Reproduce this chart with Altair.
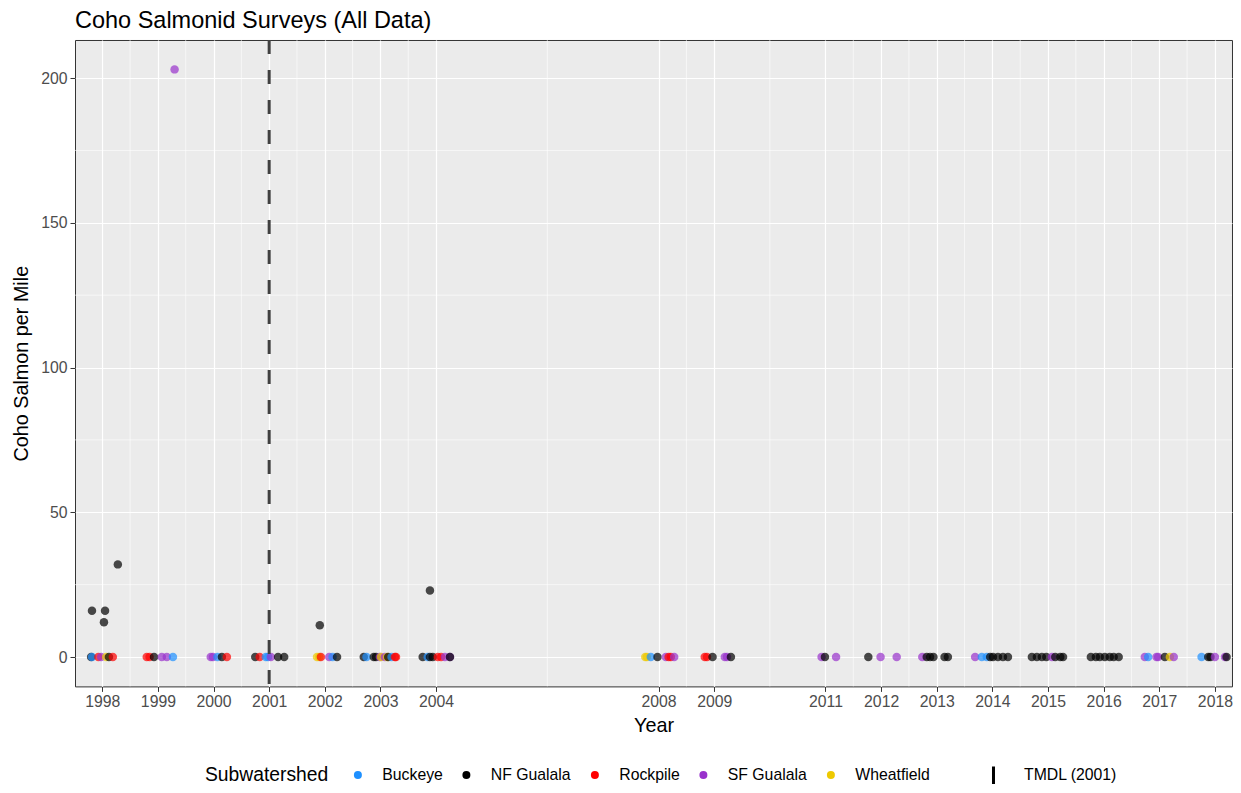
import altair as alt
import pandas as pd

FONT = "Liberation Sans"

# ---- axis breaks ----
year_ticks = [1998, 1999, 2000, 2001, 2002, 2003, 2004, 2008, 2009, 2011,
              2012, 2013, 2014, 2015, 2016, 2017, 2018]
x_minor = [1998.5, 1999.5, 2000.5, 2001.5, 2002.5, 2003.5, 2006, 2008.5,
           2010, 2011.5, 2012.5, 2013.5, 2014.5, 2015.5, 2016.5, 2017.5]
y_major = [0, 50, 100, 150, 200]
y_minor = [25, 75, 125, 175]

# ---- survey data (decimal year, coho per mile) ----
buckeye_x = [1997.815, 2000.07, 2000.94, 2000.98, 2002.14, 2002.75, 2003.20,
             2003.85, 2007.86, 1999.27, 2013.81, 2013.90, 2016.80, 2017.76]
buckeye_y = [0, 0, 0, 0, 0, 0, 0, 0, 0, 0, 0, 0, 0, 0]

nf_x = [1997.80, 1998.12, 1997.815, 1998.05, 1998.03, 1998.28, 1998.93,
        2000.15, 2000.75, 2001.16, 2001.27, 2002.22, 2001.91,
        2002.70, 2002.88, 2002.92, 2003.14, 2003.76, 2003.89, 2003.94, 2004.25,
        2003.89, 2007.98, 2008.97, 2009.30, 2010.99, 2011.77,
        2012.82, 2012.88, 2012.94, 2013.14, 2013.20,
        2013.96, 2014.01, 2014.10, 2014.19, 2014.28,
        2014.71, 2014.80, 2014.89, 2014.97, 2015.13, 2015.22, 2015.27,
        2015.77, 2015.86, 2015.93, 2016.02, 2016.11, 2016.18, 2016.27,
        2017.10, 2017.88, 2017.92, 2018.21]
nf_y = [0, 0, 16, 16, 12, 32, 0,
        0, 0, 0, 0, 0, 11,
        0, 0, 0, 0, 0, 0, 0, 0,
        23, 0, 0, 0, 0, 0,
        0, 0, 0, 0, 0,
        0, 0, 0, 0, 0,
        0, 0, 0, 0, 0, 0, 0,
        0, 0, 0, 0, 0, 0, 0,
        0, 0, 0, 0]

rock_x = [1997.93, 1998.19, 1998.80, 1998.85, 2000.24, 2000.83, 2001.93,
          2003.26, 2003.28, 2004.03, 2004.09, 2008.18, 2008.22, 2008.83, 2008.87]
rock_y = [0, 0, 0, 0, 0, 0, 0, 0, 0, 0, 0, 0, 0, 0, 0]

sf_x = [1997.98, 1999.07, 1999.16, 1999.30, 1999.95, 1999.99, 2001.03,
        2002.08, 2002.99, 2003.08, 2004.16, 2004.25, 2008.13, 2008.28,
        2009.19, 2009.23, 2010.93, 2011.19, 2011.99, 2012.28, 2012.74,
        2013.69, 2015.07, 2016.74, 2016.95, 2016.98, 2017.26, 2018.00, 2018.18]
sf_y = [0, 0, 0, 203, 0, 0, 0,
        0, 0, 0, 0, 0, 0, 0,
        0, 0, 0, 0, 0, 0, 0,
        0, 0, 0, 0, 0, 0, 0, 0]

wheat_x = [1998.07, 2001.86, 2001.90, 2003.01, 2003.12, 2007.76, 2007.79, 2017.19]
wheat_y = [0, 0, 0, 0, 0, 0, 0, 0]

names = ["Buckeye", "NF Gualala", "Rockpile", "SF Gualala", "Wheatfield"]
colors = ["#1E90FF", "#000000", "#FF0000", "#9932CC", "#EEC900"]

rows = []
for nm, xs, ys in zip(names, [buckeye_x, nf_x, rock_x, sf_x, wheat_x],
                      [buckeye_y, nf_y, rock_y, sf_y, wheat_y]):
    for xv, yv in zip(xs, ys):
        rows.append({"year": xv, "coho": yv, "Subwatershed": nm})
df = pd.DataFrame(rows).sort_values("year").reset_index(drop=True)
df["ord"] = range(len(df))

x_scale = alt.Scale(domain=[1997.51, 2018.307], nice=False, zero=False)
y_scale = alt.Scale(domain=[-10.15, 213.15], nice=False, zero=False)
x_axis = alt.Axis(values=year_ticks, format="d", title="Year", grid=True,
                  titlePadding=6)
y_axis = alt.Axis(values=y_major, title="Coho Salmon per Mile", grid=True,
                  titlePadding=9)

minor_x_layer = alt.Chart(pd.DataFrame({"year": x_minor})).mark_rule(
    color="white", strokeWidth=0.6
).encode(x=alt.X("year:Q", scale=x_scale, axis=x_axis))

minor_y_layer = alt.Chart(pd.DataFrame({"coho": y_minor})).mark_rule(
    color="white", strokeWidth=0.6
).encode(y=alt.Y("coho:Q", scale=y_scale, axis=y_axis))

points = alt.Chart(df).mark_circle(size=72, opacity=0.7).encode(
    x=alt.X("year:Q", scale=x_scale, axis=x_axis),
    y=alt.Y("coho:Q", scale=y_scale, axis=y_axis),
    color=alt.Color("Subwatershed:N",
                    scale=alt.Scale(domain=names, range=colors),
                    legend=alt.Legend(title="Subwatershed", orient="none",
                                      direction="horizontal", titleOrient="left",
                                      titleFontSize=19.3,
                                      legendX=130, legendY=727,
                                      symbolType="circle", symbolSize=64,
                                      symbolOpacity=1, labelOffset=16.5,
                                      columnPadding=15.5, titlePadding=21)),
    order=alt.Order("ord:Q"),
)

tmdl_df = pd.DataFrame({"year": [2001], "lab": ["TMDL (2001)"]})
tmdl = alt.Chart(tmdl_df).mark_rule(color="#404040", strokeDash=[14, 16]).encode(
    x=alt.X("year:Q", scale=x_scale, axis=x_axis),
    strokeWidth=alt.StrokeWidth("lab:O",
                                scale=alt.Scale(domain=["TMDL (2001)"], range=[3, 3]),
                                legend=alt.Legend(title=None, orient="none",
                                                  legendX=908, legendY=725,
                                                  symbolType="M0,-1L0,1",
                                                  symbolSize=324,
                                                  symbolStrokeColor="black",
                                                  symbolStrokeWidth=3,
                                                  symbolDash=[1, 0],
                                                  labelOffset=20)),
)

chart = alt.layer(minor_x_layer, minor_y_layer, points, tmdl).properties(
    width=1157, height=646.4,
    autosize=alt.AutoSizeParams(type="none"),
    padding={"left": 67, "top": 32, "right": 1, "bottom": 98},
    title=alt.TitleParams("Coho Salmonid Surveys (All Data)", anchor="start",
                          frame="group", fontSize=23.5, font=FONT,
                          fontWeight="normal", color="black", offset=6),
    background="white",
).configure_view(
    fill="#EBEBEB", stroke="#333333", strokeWidth=1
).configure_axis(
    labelFont=FONT, titleFont=FONT, labelFontSize=15.8, labelColor="#4D4D4D",
    titleFontSize=19.8, titleColor="black", titleFontWeight="normal",
    tickColor="#333333", tickSize=5, tickWidth=1, domain=False,
    gridColor="white", gridWidth=1.2, labelPadding=3
).configure_legend(
    labelFont=FONT, titleFont=FONT, labelFontSize=15.8, labelColor="black",
    titleFontSize=19.8, titleColor="black", titleFontWeight="normal"
)

chart.save("out.html", embed_options={"renderer": "svg", "actions": False})
